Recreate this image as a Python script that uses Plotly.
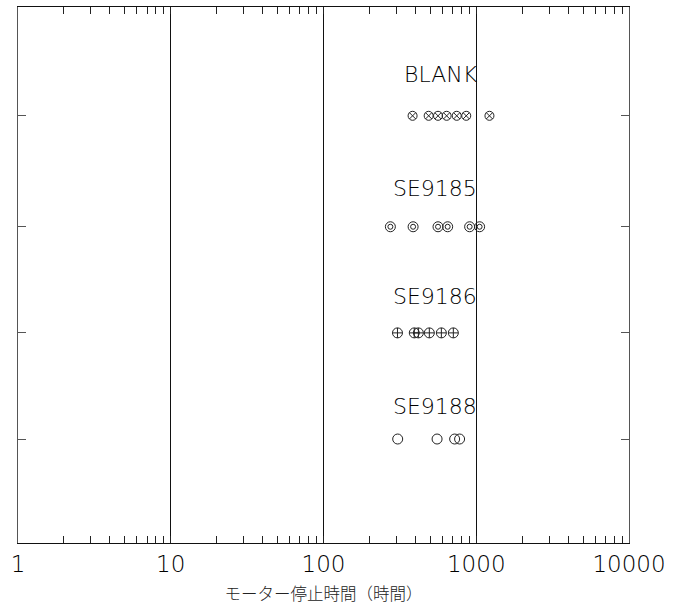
import math
import plotly.graph_objects as go

# Data (hours until motor stop)
samples = ["BLANK", "SE9185", "SE9186", "SE9188"]
blank_hours = [383, 488, 562, 640, 745, 860, 1220]
se9185_hours = [274, 386, 562, 650, 905, 1052]
se9186_hours = [305, 393, 418, 493, 591, 708]
se9188_hours = [306, 554, 722, 778]

row_pos = [3.985, 2.95, 1.96, 0.97]
label_pos = [4.375, 3.31, 2.295, 1.27]
label_x = [591, 540, 540, 540]

x_ticks = [1, 10, 100, 1000, 10000]
x_ticktext = ["1", "10", "100", "1000", "10000"]

FONT = "DejaVu Sans, Noto Sans CJK JP"
CJK = "Noto Sans CJK JP"
INK = "#222222"

fig = go.Figure()

def add(xs, y, symbol, size):
    fig.add_trace(go.Scatter(
        x=xs, y=[y] * len(xs), mode="markers",
        marker=dict(symbol=symbol, size=size, color=INK,
                    line=dict(color=INK, width=1)),
        showlegend=False, hoverinfo="x"))

add(blank_hours, row_pos[0], "circle-x-open", 9)
add(se9185_hours, row_pos[1], "circle-open", 10)
add(se9185_hours, row_pos[1], "circle-open", 5)
add(se9186_hours, row_pos[2], "circle-cross-open", 10)
add(se9188_hours, row_pos[3], "circle-open", 10)

for name, ly, lx in zip(samples, label_pos, label_x):
    fig.add_annotation(x=math.log10(lx), y=ly, xref="x", yref="y", text=name, showarrow=False,
                       font=dict(family=FONT, size=22, color="#000000", weight=200),
                       xanchor="center", yanchor="middle")

minor_vals = []
for d in [1, 10, 100, 1000]:
    for k in range(2, 10):
        minor_vals.append(k * d)

fig.update_xaxes(
    type="log", range=[0, 4],
    tickvals=x_ticks, ticktext=x_ticktext,
    showgrid=True, gridcolor="#111111", gridwidth=1,
    ticks="inside", ticklen=7, tickcolor=INK,
    minor=dict(tickvals=minor_vals, ticks="inside", ticklen=7, tickcolor=INK, showgrid=False),
    showline=True, linecolor="#111111", linewidth=1, mirror="ticks",
    zeroline=False,
    tickfont=dict(family=FONT, size=23, color="#000000", weight=200),
    title=dict(text="モーター停止時間（時間）", font=dict(family=CJK, size=16.5, color="#222222", weight=300), standoff=12),
)
fig.update_yaxes(
    range=[0, 5], tickvals=row_pos, showticklabels=False,
    ticks="inside", ticklen=8, tickcolor="#555555",
    showgrid=False, zeroline=False,
    showline=True, linecolor="#555555", linewidth=1, mirror="ticks",
)

fig.update_layout(
    width=680, height=609,
    margin=dict(l=18, r=51, t=7, b=66),
    plot_bgcolor="white", paper_bgcolor="white",
)

fig.write_html("out.html")
